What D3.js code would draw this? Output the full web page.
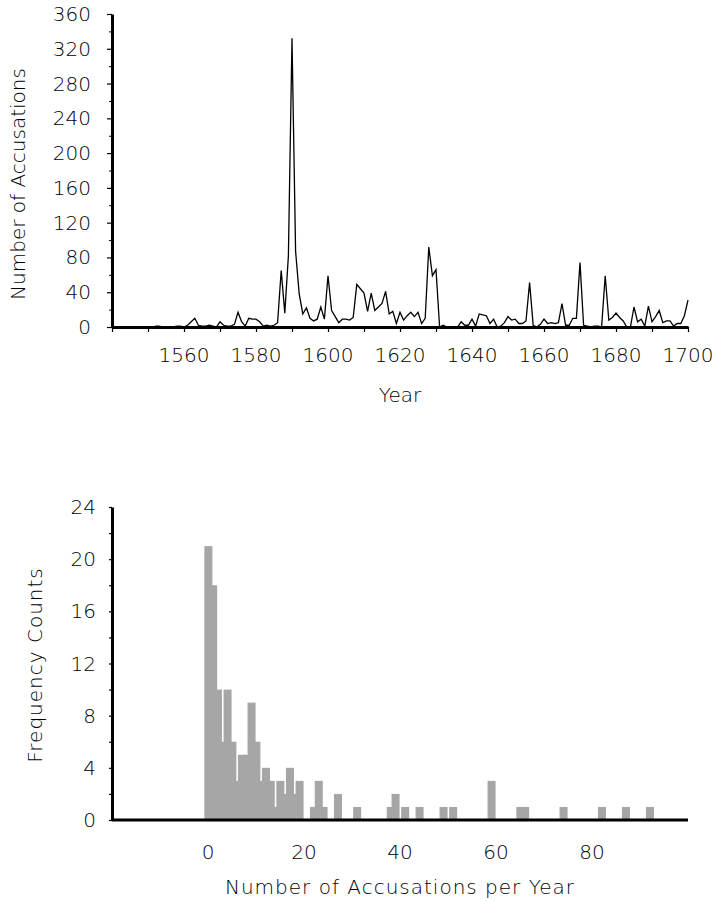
<!DOCTYPE html>
<html>
<head>
<meta charset="utf-8">
<script src="https://cdn.jsdelivr.net/npm/d3@7/dist/d3.min.js"></script>
<style>
body { margin: 0; background: #fff; }
text { font-family: "DejaVu Sans", sans-serif; font-weight: 200; font-size: 20px; fill: #000; }
.wide { letter-spacing: 1px; }
</style>
</head>
<body>
<svg></svg>
<script>
// yearly accusations, 1552 - 1700
var firstYear = 1552;
var accusations = [
  1, 1, 0, 0, 0, 0, 1, 1, 0, 2,        // 1552-1561
  6, 10, 2, 1, 1, 2, 1, 0, 6, 2,       // 1562-1571
  1, 1, 3, 17, 6, 1, 10, 9, 9, 6,      // 1572-1581
  1, 2, 1, 2, 5, 65, 16, 82, 332, 87,  // 1582-1591
  38, 15, 22, 10, 7, 9, 23, 9, 59, 19, // 1592-1601
  12, 5, 9, 9, 8, 11, 49, 44, 39, 18,  // 1602-1611
  39, 19, 23, 27, 41, 15, 18, 4, 17, 8, // 1612-1621
  13, 17, 12, 17, 4, 10, 92, 59, 66, 0, // 1622-1631
  2, 0, 0, 0, 0, 6, 2, 2, 9, 1,        // 1632-1641
  15, 14, 13, 4, 9, 0, 1, 5, 12, 8,    // 1642-1651
  9, 4, 4, 7, 51, 2, 0, 3, 9, 4,       // 1652-1661
  5, 4, 5, 27, 2, 2, 10, 10, 74, 2,    // 1662-1671
  1, 0, 1, 1, 0, 59, 8, 11, 16, 11,    // 1672-1681
  7, 0, 0, 23, 6, 9, 1, 24, 6, 12,     // 1682-1691
  19, 5, 7, 7, 1, 4, 4, 13, 31         // 1692-1700
];

var yearTicks = [1540, 1550, 1560, 1570, 1580, 1590, 1600, 1610, 1620, 1630, 1640, 1650, 1660, 1670, 1680, 1690, 1700];
var yearLabels = [1560, 1580, 1600, 1620, 1640, 1660, 1680, 1700];
var countTicks = [0, 40, 80, 120, 160, 200, 240, 280, 320, 360];
var countMinor = [20, 60, 100, 140, 180, 220, 260, 300, 340];

// histogram: accusations per year -> number of years
var histValues = [0, 1, 2, 3, 4, 5, 6, 7, 8, 9, 10, 11, 12, 13, 14, 15, 16, 17, 18, 19,
                  22, 23, 24, 27, 31, 38, 39, 41, 44, 49, 51, 59, 65, 66, 74, 82, 87, 92];
var histCounts = [21, 18, 10, 6, 10, 6, 3, 5, 5, 9, 6, 3, 4, 3, 1, 3, 2, 4, 2, 3,
                  1, 3, 1, 2, 1, 1, 2, 1, 1, 1, 1, 3, 1, 1, 1, 1, 1, 1];
var freqTicks = [0, 4, 8, 12, 16, 20, 24];
var freqMinor = [2, 6, 10, 14, 18, 22];
var perYearLabels = [0, 20, 40, 60, 80];

var width = 715, height = 901;
var svg = d3.select("svg").attr("width", width).attr("height", height);

// ---------- top: time series ----------
var x = d3.scaleLinear().domain([1540, 1700]).range([112, 688]);
var y = d3.scaleLinear().domain([0, 360]).range([327, 14]);

var series = accusations.map((v, i) => ({ year: firstYear + i, value: v }));

var line = d3.line()
    .x(d => x(d.year))
    .y(d => y(d.value));

svg.append("path")
    .datum(series)
    .attr("fill", "none")
    .attr("stroke", "#000")
    .attr("stroke-width", 1.3)
    .attr("stroke-linejoin", "miter")
    .attr("d", line);

var gxTop = svg.append("g").attr("transform", "translate(0,327)")
    .call(d3.axisBottom(x).tickValues(yearTicks).tickSize(5).tickSizeOuter(0).tickFormat(""));
var gyTop = svg.append("g").attr("transform", "translate(112,0)")
    .call(d3.axisLeft(y).tickValues(countTicks).tickSize(5).tickSizeOuter(0).tickFormat(""));
svg.append("g").attr("transform", "translate(112,0)")
    .call(d3.axisLeft(y).tickValues(countMinor).tickSize(3).tickSizeOuter(0).tickFormat(""))
    .select(".domain").remove();

[gxTop, gyTop].forEach(g => {
  g.select(".domain").attr("stroke-width", 3).attr("stroke", "#000");
  g.selectAll(".tick line").attr("stroke-width", 1.2);
});

svg.selectAll(".ylabTop").data(countTicks).enter().append("text")
    .attr("x", 91).attr("y", d => y(d) + 7)
    .attr("text-anchor", "end")
    .text(d => d);

svg.selectAll(".xlabTop").data(yearLabels).enter().append("text")
    .attr("x", d => x(d)).attr("y", 362)
    .attr("text-anchor", "middle")
    .text(d => d);

svg.append("text").attr("x", 400).attr("y", 402).attr("text-anchor", "middle").text("Year");
svg.append("text")
    .attr("transform", "translate(25,184) rotate(-90)")
    .attr("text-anchor", "middle")
    .text("Number of Accusations");

// ---------- bottom: histogram ----------
var hx = d3.scaleLinear().domain([-20, 100]).range([112, 688]);
var hy = d3.scaleLinear().domain([0, 24]).range([820, 507]);

var bins = histValues.map((v, i) => ({ value: v, count: histCounts[i] }));
var barW = hx(1.67) - hx(0);

svg.append("g").selectAll("rect").data(bins).enter().append("rect")
    .attr("x", d => hx(d.value - 0.76))
    .attr("y", d => hy(d.count))
    .attr("width", barW)
    .attr("height", d => hy(0) - hy(d.count))
    .attr("fill", "#a6a6a6");

var gyBot = svg.append("g").attr("transform", "translate(112,0)")
    .call(d3.axisLeft(hy).tickValues(freqTicks.concat(freqMinor)).tickSize(3).tickSizeOuter(0).tickFormat(""));
gyBot.select(".domain").attr("stroke-width", 3).attr("stroke", "#000");
gyBot.selectAll(".tick line").attr("stroke-width", 1.2);

svg.append("line")
    .attr("x1", hx(-20)).attr("x2", hx(100))
    .attr("y1", hy(0)).attr("y2", hy(0))
    .attr("stroke", "#000").attr("stroke-width", 3);

svg.selectAll(".ylabBot").data(freqTicks).enter().append("text")
    .attr("x", 96).attr("y", d => hy(d) + 7)
    .attr("text-anchor", "end")
    .text(d => d);

svg.selectAll(".xlabBot").data(perYearLabels).enter().append("text")
    .attr("x", d => hx(d)).attr("y", 859)
    .attr("text-anchor", "middle")
    .text(d => d);

svg.append("text").attr("class", "wide").attr("x", 400).attr("y", 894).attr("text-anchor", "middle")
    .text("Number of Accusations per Year");
svg.append("text").attr("class", "wide")
    .attr("transform", "translate(42,665) rotate(-90)")
    .attr("text-anchor", "middle")
    .text("Frequency Counts");
</script>
</body>
</html>
